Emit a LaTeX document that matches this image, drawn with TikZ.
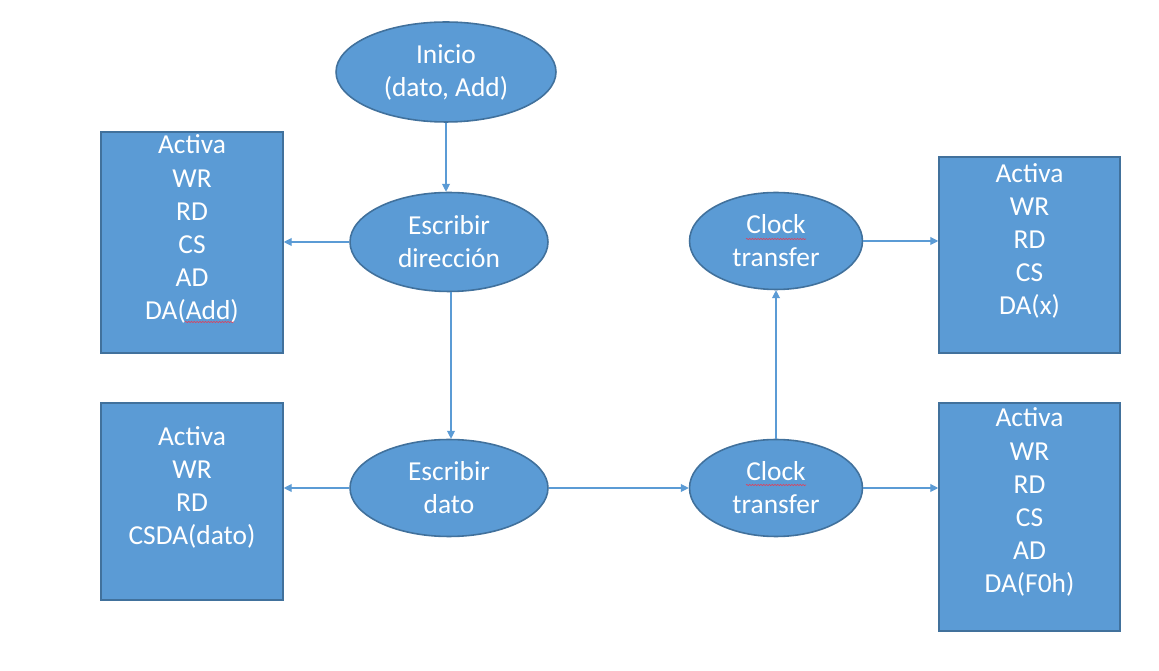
\documentclass[tikz,border=0pt]{standalone}
\usepackage{fontspec}
\setmainfont{Carlito}
\usetikzlibrary{shapes.geometric,arrows.meta,decorations.pathmorphing,calc}
\definecolor{offfill}{HTML}{5B9BD5}
\definecolor{offline}{HTML}{41719C}
\definecolor{squigred}{HTML}{E0405A}
\begin{document}
\begin{tikzpicture}[x=0.02cm,y=-0.02cm,
  ell/.style={ellipse,draw=offline,fill=offfill,line width=0.9pt,inner sep=0pt,
    text=white,align=center,font=\fontsize{15.6pt}{18.8pt}\selectfont},
  boxnode/.style={rectangle,draw=offline,fill=offfill,line width=0.9pt,inner sep=0pt},
  txt/.style={text=white,align=center,inner sep=0pt,font=\fontsize{15.6pt}{18.8pt}\selectfont},
  conn/.style={draw=offfill,line width=0.6pt,-{Triangle[width=4.5pt,length=4.5pt]}},
  squig/.style={draw=squigred,line width=0.35pt,decorate,
    decoration={snake,amplitude=0.35pt,segment length=1.6pt}}]
\useasboundingbox[fill=white] (0,0) rectangle (1159,671);

% ellipses
\node[ell,minimum width=4.4cm,minimum height=2.0cm] (ini) at (446,72) {Inicio\\(dato, Add)};
\node[ell,minimum width=3.96cm,minimum height=1.98cm] (edir) at (449,242) {Escribir\\dirección};
\node[ell,minimum width=3.96cm,minimum height=1.94cm] (edat) at (449,488) {Escribir\\dato};
\node[ell,minimum width=3.46cm,minimum height=1.94cm] (ct1) at (776,241) {Clock\\transfer};
\node[ell,minimum width=3.46cm,minimum height=1.94cm] (ct2) at (776,488) {Clock\\transfer};

% boxes
\node[boxnode,minimum width=3.64cm,minimum height=4.42cm] (lb1) at (192,242.5) {};
\node[boxnode,minimum width=3.64cm,minimum height=3.94cm] (lb2) at (192,501.5) {};
\node[boxnode,minimum width=3.62cm,minimum height=3.92cm] (rb1) at (1029.5,255) {};
\node[boxnode,minimum width=3.62cm,minimum height=4.56cm] (rb2) at (1029.5,517) {};

% box texts
\node[txt] (tl1) at (192,229) {Activa\\WR\\RD\\CS\\AD\\DA(Add)};
\node[txt] (tl2) at (192,487) {Activa\\WR\\RD\\CSDA(dato)};
\node[txt] (tr1) at (1029.5,241) {Activa\\WR\\RD\\CS\\DA(x)};
\node[txt] (tr2) at (1029.5,502) {Activa\\WR\\RD\\CS\\AD\\DA(F0h)};

% spell-check squiggles
\draw[squig] (185,322) -- (234,322);
\draw[squig] (746,239) -- (806,239);
\draw[squig] (746,485) -- (806,485);

% connectors
\draw[conn] (ini.south) -- (ini.south |- edir.north);
\draw[conn] (edir.west) -- (lb1.east |- edir.west);
\draw[conn] ($(edir.south)+(2,0)$) -- ($(edat.north)+(2,0)$);
\draw[conn] (edat.west) -- (lb2.east |- edat.west);
\draw[conn] (edat.east) -- (ct2.west);
\draw[conn] (ct2.north) -- (ct1.south);
\draw[conn] (ct1.east) -- (rb1.west |- ct1.east);
\draw[conn] (ct2.east) -- (rb2.west |- ct2.east);
\end{tikzpicture}
\end{document}
